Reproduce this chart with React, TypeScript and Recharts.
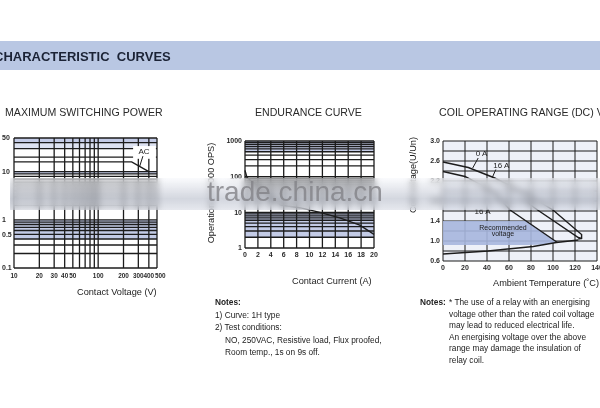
import {
  ComposedChart,
  Line,
  Area,
  XAxis,
  YAxis,
  CartesianGrid,
  ReferenceArea,
  ReferenceLine,
  ReferenceDot,
} from 'recharts';

const FONT = '"Liberation Sans", Arial, Helvetica, sans-serif';
const INK = '#1c1c1c';
const TINT = '#c3cbe6';
const TINT_LIGHT = '#dde2f1';

// ---- Maximum switching power (log / log) ----
const voltageTicks = [10, 20, 30, 40, 50, 100, 200, 300, 400, 500];
const voltageGrid = [10, 20, 30, 40, 50, 60, 70, 80, 90, 100, 200, 300, 400, 500];
const switchCurrentTicks = [0.1, 0.5, 1, 10, 50];
const switchCurrentGrid = [
  0.1, 0.2, 0.3, 0.4, 0.5, 0.6, 0.7, 0.8, 0.9, 1, 2, 3, 4, 5, 6, 7, 8, 9, 10, 20, 30, 40, 50,
];
const acVoltage = [10, 250, 400];
const acCurrent = [16, 16, 10];

// ---- Endurance curve ----
const loadCurrentTicks = [0, 2, 4, 6, 8, 10, 12, 14, 16, 18, 20];
const opsTicks = [1, 10, 100, 1000];
const opsGrid = [
  1, 2, 3, 4, 5, 6, 7, 8, 9, 10, 20, 30, 40, 50, 60, 70, 80, 90, 100, 200, 300, 400, 500, 600,
  700, 800, 900, 1000,
];
const enduranceCurrent = [0, 0.3, 5.5, 8.5, 11.6, 14.7, 17.8, 20];
const enduranceOps = [150, 95, 16, 13.5, 10, 7, 4.4, 2.4];

// ---- Coil operating range (DC) ----
const tempTicks = [0, 20, 40, 60, 80, 100, 120, 140];
const ratioTicks = [0.6, 1.0, 1.4, 1.8, 2.2, 2.6, 3.0];
const ratioGrid = [0.6, 0.8, 1.0, 1.2, 1.4, 1.6, 1.8, 2.0, 2.2, 2.4, 2.6, 2.8, 3.0];
const max0ATemp = [0, 23, 47, 75, 100, 126, 126, 123];
const max0ARatio = [2.58, 2.47, 2.26, 1.95, 1.62, 1.13, 1.05, 1.04];
const max16ATemp = [0, 20, 45, 61, 104];
const max16ARatio = [2.39, 2.29, 2.0, 1.62, 0.97];
const maxMidTemp = [72, 86, 123, 126];
const maxMidRatio = [1.85, 1.62, 1.07, 1.05];
const pickupTemp = [0, 41, 82, 103, 123];
const pickupRatio = [0.74, 0.8, 0.89, 0.97, 1.02];
const recTemp = [0, 76, 92, 104];
const recLow = [0.92, 0.92, 0.93, 0.97];
const recHigh = [1.4, 1.4, 1.16, 0.97];

const acData = acVoltage.map((v, i) => ({ v, a: acCurrent[i] }));
const enduranceData = enduranceCurrent.map((a, i) => ({ a, ops: enduranceOps[i] }));
const toTU = (t: number[], u: number[]) => t.map((x, i) => ({ t: x, u: u[i] }));
const max0A = toTU(max0ATemp, max0ARatio);
const max16A = toTU(max16ATemp, max16ARatio);
const maxMid = toTU(maxMidTemp, maxMidRatio);
const pickup = toTU(pickupTemp, pickupRatio);
const recData = recTemp.map((t, i) => ({ t, r: [recLow[i], recHigh[i]] }));

// colour of each stripe between horizontal grid lines (top to bottom)
const bandFills = (grid: number[], bands: [number, number, string][]) => {
  const desc = [...grid].sort((a, b) => b - a);
  return desc.map((hi, i) => {
    const lo = desc[i + 1];
    if (lo === undefined) return 'none';
    const b = bands.find(([l, h]) => lo >= l - 1e-9 && hi <= h + 1e-9);
    return b ? b[2] : 'none';
  });
};

const tickText =
  (
    labels: number[],
    anchor: string,
    dy: string,
    fmt = (v: number) => String(v),
    size = 7,
    lastStart = false,
  ) =>
  (props: any) => {
    const { x, y, payload } = props;
    if (!labels.includes(payload.value)) return <g />;
    // the last label of the voltage axis sits just right of its line in the original
    const isLast = lastStart && payload.value === labels[labels.length - 1];
    return (
      <text
        x={x}
        y={y}
        dy={dy}
        dx={isLast ? -2 : 0}
        textAnchor={isLast ? 'start' : anchor}
        fontSize={size}
        fontWeight="bold"
        fontFamily={FONT}
        fill="#2a2a2a"
      >
        {fmt(payload.value)}
      </text>
    );
  };

const note = (value: string, size = 8) => ({
  value,
  position: 'center' as const,
  fontSize: size,
  fill: INK,
  fontFamily: FONT,
});

const Txt = ({ x, base, size, bold, color = '#222', children }: any) => (
  <div
    style={{
      position: 'absolute',
      left: x,
      top: base - 0.8465 * size,
      fontSize: size,
      lineHeight: `${size}px`,
      fontWeight: bold ? 'bold' : 'normal',
      whiteSpace: 'pre',
      color,
    }}
  >
    {children}
  </div>
);

const VTxt = ({ cx, cy, size, children }: any) => (
  <div
    style={{
      position: 'absolute',
      left: cx,
      top: cy,
      fontSize: size,
      lineHeight: `${size}px`,
      whiteSpace: 'pre',
      color: '#222',
      transform: 'translate(-50%, -50%) rotate(-90deg)',
    }}
  >
    {children}
  </div>
);

const SwitchingPower = () => (
  <ComposedChart width={170} height={154} margin={{ top: 8, right: 13, bottom: 0, left: 0 }}>
    <CartesianGrid
      stroke={INK}
      strokeWidth={1.3}
      horizontalFill={bandFills(switchCurrentGrid, [
        [40, 50, TINT],
        [30, 40, TINT_LIGHT],
        [9, 10, TINT],
        [0.4, 1, TINT],
      ])}
      fillOpacity={1}
    />
    <XAxis
      type="number"
      dataKey="v"
      scale="log"
      domain={[10, 500]}
      ticks={voltageGrid}
      interval={0}
      allowDataOverflow
      axisLine={false}
      tickLine={false}
      tickSize={0}
      tickMargin={5.5}
      height={16}
      tick={tickText(voltageTicks, 'middle', '0.71em', (v) => String(v), 6.4, true)}
    />
    <YAxis
      type="number"
      scale="log"
      domain={[0.1, 50]}
      ticks={switchCurrentGrid}
      interval={0}
      allowDataOverflow
      axisLine={false}
      tickLine={false}
      tickSize={0}
      tickMargin={12}
      width={14}
      tick={tickText(switchCurrentTicks, 'start', '0.35em')}
    />
    <ReferenceArea x1={260} x2={485} y1={18.5} y2={34} fill="#fff" fillOpacity={1} stroke="none" />
    <Line
      data={acData}
      dataKey="a"
      type="linear"
      stroke={INK}
      strokeWidth={1.4}
      dot={false}
      isAnimationActive={false}
    />
    <ReferenceLine segment={[{ x: 340, y: 21 }, { x: 310, y: 12.6 }]} stroke={INK} strokeWidth={1} />
    <ReferenceDot x={350} y={27} r={0} fill="none" stroke="none" label={note('AC')} />
  </ComposedChart>
);

const Endurance = () => (
  <ComposedChart width={180} height={132} margin={{ top: 11, right: 11, bottom: 0, left: 0 }}>
    <CartesianGrid
      stroke={INK}
      strokeWidth={1.3}
      horizontalFill={bandFills(opsGrid, [
        [500, 1000, TINT],
        [2, 10, TINT],
      ])}
      fillOpacity={1}
    />
    <XAxis
      type="number"
      dataKey="a"
      domain={[0, 20]}
      ticks={loadCurrentTicks}
      interval={0}
      axisLine={false}
      tickLine={false}
      tickSize={0}
      tickMargin={4.5}
      height={14}
      tick={tickText(loadCurrentTicks, 'middle', '0.71em')}
    />
    <YAxis
      type="number"
      scale="log"
      domain={[1, 1000]}
      ticks={opsGrid}
      interval={0}
      allowDataOverflow
      axisLine={false}
      tickLine={false}
      tickSize={0}
      tickMargin={3}
      width={40}
      tick={tickText(opsTicks, 'end', '0.35em')}
    />
    <Line
      data={enduranceData}
      dataKey="ops"
      type="linear"
      stroke={INK}
      strokeWidth={1.4}
      dot={false}
      isAnimationActive={false}
    />
  </ComposedChart>
);

const CoilRange = () => (
  <ComposedChart width={195} height={145} margin={{ top: 11, right: 3, bottom: 0, left: 0 }}>
    <CartesianGrid stroke={INK} strokeWidth={1} fill="#eef1f8" fillOpacity={1} />
    <XAxis
      type="number"
      dataKey="t"
      domain={[0, 140]}
      ticks={tempTicks}
      interval={0}
      axisLine={false}
      tickLine={false}
      tickSize={0}
      tickMargin={4.5}
      height={14}
      tick={tickText(tempTicks, 'middle', '0.71em')}
    />
    <YAxis
      type="number"
      domain={[0.6, 3.0]}
      ticks={ratioGrid}
      interval={0}
      axisLine={false}
      tickLine={false}
      tickSize={0}
      tickMargin={3}
      width={38}
      tick={tickText(ratioTicks, 'end', '0.35em', (v) => v.toFixed(1))}
    />
    <Area
      data={recData}
      dataKey="r"
      type="linear"
      stroke="none"
      fill="#a6b6dd"
      fillOpacity={0.9}
      isAnimationActive={false}
    />
    <Line data={pickup} dataKey="u" type="linear" stroke={INK} strokeWidth={1.4} dot={false} isAnimationActive={false} />
    <Line data={max0A} dataKey="u" type="linear" stroke={INK} strokeWidth={1.4} dot={false} isAnimationActive={false} />
    <Line data={max16A} dataKey="u" type="linear" stroke={INK} strokeWidth={1.4} dot={false} isAnimationActive={false} />
    <Line data={maxMid} dataKey="u" type="linear" stroke={INK} strokeWidth={1.4} dot={false} isAnimationActive={false} />
    <ReferenceLine segment={[{ x: 32, y: 2.66 }, { x: 27, y: 2.46 }]} stroke={INK} strokeWidth={1} />
    <ReferenceLine segment={[{ x: 48, y: 2.43 }, { x: 45, y: 2.28 }]} stroke={INK} strokeWidth={1} />
    <ReferenceDot x={35} y={2.75} r={0} fill="none" stroke="none" label={note('0 A')} />
    <ReferenceDot x={53} y={2.52} r={0} fill="none" stroke="none" label={note('16 A')} />
    <ReferenceDot x={36} y={1.6} r={0} fill="none" stroke="none" label={note('16 A')} />
    <ReferenceDot x={54.5} y={1.27} r={0} fill="none" stroke="none" label={note('Recommended', 7)} />
    <ReferenceDot x={54.5} y={1.15} r={0} fill="none" stroke="none" label={note('voltage', 7)} />
  </ComposedChart>
);

export default function App() {
  return (
    <div
      style={{
        position: 'absolute',
        left: 0,
        top: 0,
        width: 600,
        height: 408,
        overflow: 'hidden',
        background: '#fff',
        fontFamily: FONT,
        color: '#222',
      }}
    >
      {/* section header */}
      <div style={{ position: 'absolute', left: 0, top: 41, width: 600, height: 29, background: '#b9c7e3' }} />
      <Txt x={-6} base={61.5} size={13} bold color="#1b2336">
        CHARACTERISTIC  CURVES
      </Txt>

      {/* titles */}
      <Txt x={5} base={116} size={10.6} color="#2a2a2a">MAXIMUM SWITCHING POWER</Txt>
      <Txt x={255} base={116} size={10.6} color="#2a2a2a">ENDURANCE CURVE</Txt>
      <Txt x={439} base={116} size={10.6} color="#2a2a2a">COIL OPERATING RANGE (DC) V</Txt>

      <div style={{ position: 'absolute', left: 0, top: 130 }}>
        <SwitchingPower />
      </div>
      <div style={{ position: 'absolute', left: 205, top: 130 }}>
        <Endurance />
      </div>
      <div style={{ position: 'absolute', left: 405, top: 130 }}>
        <CoilRange />
      </div>

      {/* axis titles */}
      <Txt x={77} base={296} size={9.2}>Contact Voltage (V)</Txt>
      <Txt x={292} base={285} size={9.2}>Contact Current (A)</Txt>
      <Txt x={493} base={286.5} size={9.2}>Ambient Temperature (˚C)</Txt>
      <VTxt cx={212} cy={193} size={9.2}>Operations (x1000 OPS)</VTxt>
      <VTxt cx={414} cy={175} size={9.2}>Coil Voltage(U/Un)</VTxt>

      {/* watermark band */}
      <div
        style={{
          position: 'absolute',
          left: 10,
          top: 178,
          width: 590,
          height: 32,
          backdropFilter: 'blur(3px)',
          WebkitBackdropFilter: 'blur(3px)',
          background:
            'linear-gradient(to bottom, rgba(245,247,252,0.45), rgba(175,181,196,0.55) 65%, rgba(200,205,218,0.45))',
          filter: 'blur(0.5px)',
        }}
      />
      <Txt x={207} base={202} size={28} color="rgba(130,130,135,0.8)">trade.china.cn</Txt>

      {/* notes */}
      <Txt x={215} base={305.5} size={8.3} bold>Notes:</Txt>
      <Txt x={215} base={318} size={8.3}>1) Curve: 1H type</Txt>
      <Txt x={215} base={330.5} size={8.3}>2) Test conditions:</Txt>
      <Txt x={225} base={343} size={8.3}>NO, 250VAC, Resistive load, Flux proofed,</Txt>
      <Txt x={225} base={355.5} size={8.3}>Room temp., 1s on 9s off.</Txt>

      <Txt x={420} base={305} size={8.3} bold>Notes:</Txt>
      <Txt x={449} base={305} size={8.3}>* The use of a relay with an energising</Txt>
      <Txt x={449} base={316.6} size={8.3}>voltage other than the rated coil voltage</Txt>
      <Txt x={449} base={328.2} size={8.3}>may lead to reduced electrical life.</Txt>
      <Txt x={449} base={339.8} size={8.3}>An energising voltage over the above</Txt>
      <Txt x={449} base={351.4} size={8.3}>range may damage the insulation of</Txt>
      <Txt x={449} base={363} size={8.3}>relay coil.</Txt>
    </div>
  );
}
